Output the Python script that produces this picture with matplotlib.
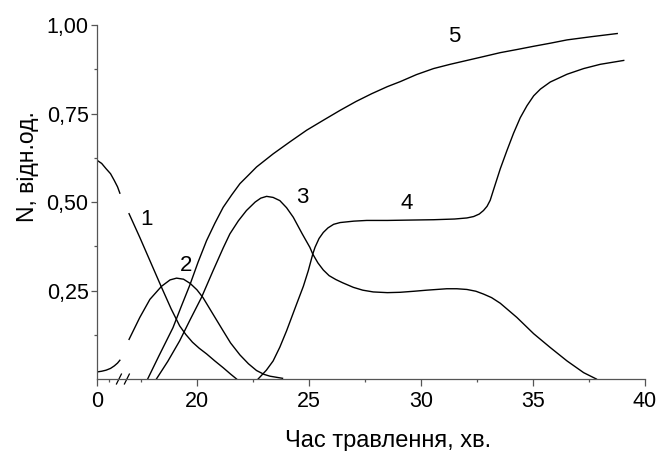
import numpy as np
import matplotlib
matplotlib.use("Agg")
import matplotlib.pyplot as plt
from matplotlib.ticker import FixedLocator, FuncFormatter

plt.rcParams['font.family'] = ['Liberation Sans', 'DejaVu Sans']

# крива 1 та 2 до розриву осі (час 0..1 хв)
t1_pre = [0.0, 0.2, 0.39, 0.58, 0.74, 0.88, 0.98]
n1_pre = [0.618, 0.609, 0.594, 0.580, 0.561, 0.543, 0.525]
t2_pre = [0.0, 0.2, 0.39, 0.58, 0.74, 0.88, 0.98]
n2_pre = [0.020, 0.022, 0.025, 0.030, 0.037, 0.045, 0.053]

# після розриву
t1 = [16.97, 17.45, 18.0, 18.42, 18.85, 19.23, 19.5, 19.8, 20.1, 20.43, 20.8,
      21.17, 21.5, 21.77]
n1 = [0.467, 0.400, 0.320, 0.259, 0.198, 0.150, 0.126, 0.104, 0.087, 0.071, 0.051,
      0.032, 0.014, 0.0]

t2 = [16.97, 17.45, 17.9, 18.42, 18.8, 19.09, 19.4, 19.7, 20.0, 20.27, 20.7, 21.17,
      21.5, 21.92, 22.3, 22.66, 23.0, 23.26, 23.82]
n2 = [0.112, 0.174, 0.225, 0.262, 0.280, 0.285, 0.282, 0.270, 0.252, 0.230, 0.185,
      0.136, 0.102, 0.068, 0.043, 0.024, 0.013, 0.008, 0.002]

t3 = [18.19, 18.7, 19.23, 19.7, 20.2, 20.72, 21.17, 21.47, 21.85, 22.21, 22.6,
      22.85, 23.11, 23.4, 23.7, 24.0, 24.3, 24.7, 25.04, 25.17, 25.4, 25.64, 25.9,
      26.2, 26.5, 26.98, 27.4, 27.87, 28.5, 29.07, 29.7, 30.26, 31.15, 31.6, 32.05,
      32.45, 32.79, 33.15, 33.54, 34.28, 35.03, 35.77, 36.52, 37.26, 37.83]
n3 = [0.0, 0.050, 0.108, 0.168, 0.230, 0.306, 0.370, 0.410, 0.447, 0.476, 0.500,
      0.511, 0.516, 0.513, 0.504, 0.484, 0.457, 0.410, 0.372, 0.353, 0.328, 0.308,
      0.292, 0.281, 0.272, 0.259, 0.251, 0.246, 0.244, 0.245, 0.248, 0.251, 0.255,
      0.255, 0.253, 0.248, 0.240, 0.230, 0.214, 0.174, 0.128, 0.089, 0.051, 0.018,
      0.0]

t4 = [22.73, 23.1, 23.4, 23.7, 24.0, 24.45, 24.75, 24.97, 25.17, 25.27, 25.45,
      25.64, 25.85, 26.1, 26.39, 27.0, 27.58, 28.5, 29.5, 30.56, 31.5, 32.05, 32.35,
      32.6, 32.79, 32.95, 33.09, 33.24, 33.54, 33.84, 34.13, 34.43, 34.73, 35.03,
      35.33, 35.77, 36.52, 37.26, 38.0, 39.05]
n4 = [0.0, 0.025, 0.051, 0.090, 0.136, 0.212, 0.262, 0.306, 0.353, 0.372, 0.397,
      0.414, 0.427, 0.437, 0.442, 0.446, 0.448, 0.448, 0.449, 0.450, 0.452, 0.455,
      0.459, 0.466, 0.476, 0.488, 0.505, 0.535, 0.594, 0.646, 0.694, 0.738, 0.772,
      0.800, 0.819, 0.839, 0.861, 0.877, 0.889, 0.900]

t5 = [17.8, 18.3, 18.93, 19.3, 19.68, 20.05, 20.43, 20.8, 21.17, 21.55, 21.92,
      22.3, 22.66, 23.4, 24.15, 24.9, 25.64, 26.39, 27.1, 27.8, 28.5, 29.07,
      29.8, 30.56, 31.3, 32.05, 32.8, 33.54, 34.3, 35.03, 35.8, 36.52, 37.6, 38.76]
n5 = [0.0, 0.065, 0.145, 0.205, 0.265, 0.330, 0.391, 0.440, 0.485, 0.520, 0.552,
      0.576, 0.599, 0.636, 0.670, 0.703, 0.731, 0.759, 0.784, 0.806, 0.826, 0.840,
      0.860, 0.877, 0.889, 0.900, 0.911, 0.922, 0.931, 0.940, 0.949, 0.958, 0.967, 0.976]

# підписи кривих
lbl_text = ['1', '2', '3', '4', '5']
lbl_t = [17.74, 19.53, 24.72, 29.37, 31.5]
lbl_n = [0.452, 0.320, 0.512, 0.497, 0.969]

xticks_major = [0, 20, 25, 30, 35, 40]
xticks_minor = [0.5, 17.5, 22.5, 27.5, 32.5, 37.5]
yticks_major = [0.25, 0.50, 0.75, 1.00]
yticks_minor = [0.125, 0.375, 0.625, 0.875]

# розрив осі: 0..1 хв стиснуто перед 17 хв
T_KNOTS = [-10, 0, 1, 16.9, 100]
P_KNOTS = [5.54, 15.54, 16.58, 16.9, 100]


def fwd(t):
    return np.interp(t, T_KNOTS, P_KNOTS)


def inv(p):
    return np.interp(p, P_KNOTS, T_KNOTS)


fig = plt.figure(figsize=(6.6, 4.51), dpi=100)
ax = fig.add_axes([0.147, 0.1596, 0.8303, 0.7849])
ax.set_xscale('function', functions=(fwd, inv))

lw = 1.0
ax.plot(t1_pre, n1_pre, color='k', lw=lw)
ax.plot(t2_pre, n2_pre, color='k', lw=lw)
for tt, nn in [(t1, n1), (t2, n2), (t3, n3), (t4, n4), (t5, n5)]:
    ax.plot(tt, nn, color='k', lw=lw)

for s, x, y in zip(lbl_text, lbl_t, lbl_n):
    ax.text(x, y, s, fontsize=16, ha='center', va='center')

ax.set_xlim(0, 40)
ax.set_ylim(0, 1.0)

ax.xaxis.set_major_locator(FixedLocator(xticks_major))
ax.xaxis.set_minor_locator(FixedLocator(xticks_minor))
ax.xaxis.set_major_formatter(FuncFormatter(lambda v, p: '%d' % round(v)))
ax.yaxis.set_major_locator(FixedLocator(yticks_major))
ax.yaxis.set_minor_locator(FixedLocator(yticks_minor))
ax.yaxis.set_major_formatter(FuncFormatter(lambda v, p: ('%.2f' % v).replace('.', ',')))

for side in ['top', 'right']:
    ax.spines[side].set_visible(False)
for side in ['left', 'bottom']:
    ax.spines[side].set_color('#555555')
    ax.spines[side].set_linewidth(0.9)

ax.tick_params(which='major', length=4.6, width=0.9, color='#555555', labelsize=15.5)
ax.tick_params(which='minor', length=2.4, width=0.9, color='#555555')
ax.tick_params(axis='y', which='major', pad=1.5)
ax.tick_params(axis='x', which='major', length=4.8, pad=3.5)

# позначка розриву
for xc in [0.040, 0.0545]:
    ax.plot([xc - 0.0045, xc + 0.0045], [-0.014, 0.014], color='k', lw=0.9,
            transform=ax.transAxes, clip_on=False)

ax.set_xlabel('Час травлення, хв.', fontsize=17)
ax.xaxis.label.set_va('baseline')
ax.xaxis.set_label_coords(0.531, -0.192)
ax.set_ylabel('N, відн.од.', fontsize=16.5)
ax.yaxis.set_label_coords(-0.106, 0.599)

fig.savefig('out.png', dpi=100)
